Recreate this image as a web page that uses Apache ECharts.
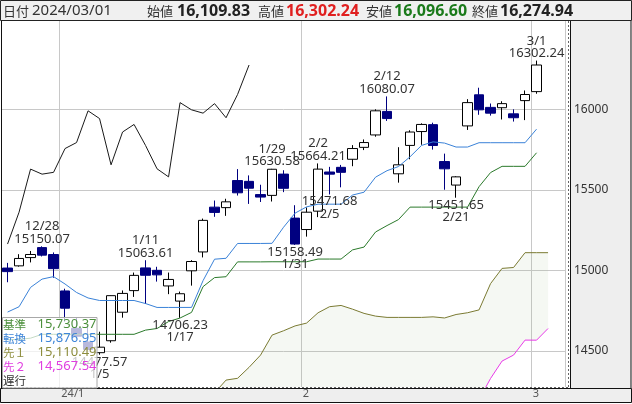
<!DOCTYPE html>
<html>
<head>
<meta charset="utf-8">
<script src="https://cdn.jsdelivr.net/npm/echarts@6/dist/echarts.min.js"></script>
<style>
html, body { margin: 0; padding: 0; background: #fff; }
#main { width: 632px; height: 404px; }
</style>
</head>
<body>
<div id="main"></div>
<script>
// daily candles, 2023/12/22 .. 2024/03/01
var dates = ['12/22', '12/26', '12/27', '12/28', '12/29',
    '1/2', '1/3', '1/4', '1/5', '1/8', '1/9', '1/10', '1/11', '1/12', '1/16', '1/17', '1/18', '1/19',
    '1/22', '1/23', '1/24', '1/25', '1/26', '1/29', '1/30', '1/31',
    '2/1', '2/2', '2/5', '2/6', '2/7', '2/8', '2/9', '2/12', '2/13', '2/14', '2/15', '2/16',
    '2/20', '2/21', '2/22', '2/23', '2/26', '2/27', '2/28', '2/29', '3/1'];
var futureSlots = ['', ''];

var opens = [15015, 15028.69, 15080, 15142, 15099, 14873, 14641, 14556, 14490, 14564, 14741, 14875, 15016, 15001,
    14904, 14810, 14998, 15115, 15393, 15390, 15558, 15553, 15471, 15466, 15598, 15325, 15254, 15368, 15611, 15640,
    15690, 15764, 15841, 15987, 15600, 15776, 15862, 15905, 15676, 15530, 15897, 16090, 16012, 16010, 15972, 16054,
    16109.83];
var closes = [14992.97, 15074.57, 15099.18, 15095.14, 15011.35, 14765.94, 14592.21, 14510.30, 14524.07, 14843.77,
    14857.71, 14969.65, 14970.19, 14972.76, 14944.35, 14855.62, 15055.65, 15310.97, 15360.29, 15425.94, 15481.92,
    15510.50, 15455.36, 15628.04, 15509.90, 15164.01, 15361.64, 15628.95, 15597.68, 15609.00, 15756.64, 15793.72,
    15990.66, 15942.55, 15655.60, 15859.15, 15906.17, 15775.65, 15630.78, 15580.87, 16041.62, 15996.82, 15976.25,
    16035.30, 15947.74, 16091.92, 16274.94];
var lows = [14927, 15024, 15050, 15087, 14955, 14682, 14577, 14504, 14477.57, 14552, 14707, 14836, 14792, 14931,
    14853, 14706.23, 14906, 15081, 15333, 15339, 15465, 15413, 15425, 15428, 15486, 15158.49, 15210, 15331, 15471.68,
    15516, 15647, 15747, 15830, 15928, 15545, 15690, 15780, 15750, 15501, 15451.65, 15872, 15966, 15961, 15937, 15924,
    15933, 16096.60];
var highs = [15047, 15101, 15121, 15150.07, 15112, 14887, 14706, 14655, 14620, 14845, 14876, 14987, 15063.61, 15023,
    14987, 14869, 15064, 15322, 15434, 15445, 15629, 15590, 15532, 15630.58, 15622, 15405, 15391, 15664.21, 15643,
    15655, 15778, 15813, 16000, 16080.07, 15765, 15870, 15913, 15917, 15725, 15585, 16063, 16134, 16036, 16050, 16000,
    16117, 16302.24];

// ichimoku lines
var tenkan = [14742, 14775, 14895, 14946.5, 14962, 14916, 14863.5, 14829.5, 14813.8, 14813.8, 14813.8, 14813.8,
    14794.8, 14770.6, 14770.6, 14770.6, 14770.8, 14937, 15070, 15075.6, 15167.6, 15167.6, 15167.6, 15168.4, 15268.3,
    15355.8, 15394.5, 15411.35, 15411.35, 15411.35, 15468, 15485.7, 15579, 15619.3, 15645, 15705.5, 15775.9, 15798,
    15790.5, 15765.9, 15765.9, 15792.8, 15792.8, 15792.8, 15792.8, 15792.8, 15876.95];
var kijun = [14570, 14572, 14580, 14604, 14604, 14604, 14604, 14604, 14604, 14604, 14604, 14604, 14630, 14640, 14683,
    14705, 14740, 14899.8, 14955.8, 14961.3, 15053.3, 15053.3, 15053.3, 15054.1, 15054.1, 15054.1, 15054.1, 15070.9,
    15070.9, 15070.9, 15127.8, 15145.3, 15238.8, 15278.8, 15316, 15393.2, 15393.2, 15393.2, 15393.2, 15393.2, 15393.2,
    15520, 15607.5, 15646.2, 15646.2, 15646.2, 15730.37];
var senkou1 = [null, null, null, null, null, null, null, null, null, null, null, null, null, null, null, null, null,
    null, 14240, 14320, 14331, 14399, 14475, 14599, 14626, 14656, 14673.5, 14737.5, 14775.3, 14783, 14760, 14733.8,
    14716.8, 14708.9, 14708.9, 14708.9, 14708.9, 14712.4, 14705.3, 14726.8, 14737.8, 14755.4, 14918.4, 15012.9,
    15018.5, 15110.45, 15110.49, 15110.45];
var senkou2 = [null, null, null, null, null, null, null, null, null, null, null, null, null, null, null, null, null,
    null, null, null, null, null, null, null, null, null, null, null, null, null, null, null, null, null, null, null,
    null, null, null, null, null, 14200, 14330, 14438, 14475, 14568, 14567.54, 14640];
var chikou = [15164.01, 15361.64, 15628.95, 15597.68, 15609.00, 15756.64, 15793.72, 15990.66, 15942.55, 15655.60,
    15859.15, 15906.17, 15775.65, 15630.78, 15580.87, 16041.62, 15996.82, 15976.25, 16035.30, 15947.74, 16091.92,
    16274.94];

// swing highs / lows that carry a label
var peakIdx = [3, 12, 23, 27, 33, 46];
var troughIdx = [8, 15, 25, 28, 39];

var yTicks = [14500, 15000, 15500, 16000];
var monthStarts = [5, 26, 46];
var monthLabels = ['24/1', '2', '3'];

var Y_MIN = 14277, Y_MAX = 16548;

function fmt(v) {
    return v.toLocaleString('en-US', { minimumFractionDigits: 2, maximumFractionDigits: 2 });
}

var categories = dates.concat(futureSlots);
var candles = dates.map(function (d, i) {
    return [opens[i], closes[i], lows[i], highs[i]];
});

// cloud: from span 1 down to span 2 (or to the bottom of the chart while span 2 is below it)
var cloudBase = senkou1.map(function (v, i) {
    if (v == null) return null;
    var b = senkou2[i] == null ? Y_MIN : senkou2[i];
    return Math.min(b, v);
});
var cloudBand = senkou1.map(function (v, i) {
    return v == null ? null : v - cloudBase[i];
});

var peakMarks = peakIdx.map(function (i) {
    return { coord: [i, highs[i]], label: { position: 'top', formatter: dates[i] + '\n' + highs[i].toFixed(2) } };
});
var troughMarks = troughIdx.map(function (i) {
    return { coord: [i, lows[i]], label: { position: 'bottom', formatter: lows[i].toFixed(2) + '\n' + dates[i] } };
});

var last = dates.length - 1;
var jp = '"Noto Sans CJK JP", sans-serif';
var lat = '"Noto Sans", sans-serif';

function hText(x, text, font, color) {
    return { type: 'text', z: 51, x: x, y: 11,
        style: { text: text, font: font, fill: color, verticalAlign: 'middle', align: 'left' } };
}

var legendRows = [
    ['基準', kijun[last], '#4b8f3b'],
    ['転換', tenkan[last], '#3f86d8'],
    ['先１', senkou1[last], '#8d8d3d'],
    ['先２', senkou2[last], '#e03ee0'],
    ['遅行', null, '#333']
];
var legendEls = [{ type: 'rect', z: 60, shape: { x: 2.5, y: 317.5, width: 94.5, height: 70.5 },
    style: { fill: 'rgba(255,255,255,0.72)', stroke: '#a8a8a8', lineWidth: 1 } }];
legendRows.forEach(function (r, k) {
    var y = 324.5 + k * 14;
    legendEls.push({ type: 'text', z: 61, x: 3, y: y,
        style: { text: r[0], font: '11.5px ' + jp, fill: r[2], verticalAlign: 'middle' } });
    if (r[1] != null) {
        legendEls.push({ type: 'text', z: 61, x: 96.5, y: y,
            style: { text: fmt(r[1]), font: '13px ' + lat, fill: r[2], align: 'right', verticalAlign: 'middle' } });
    }
});

var myChart = echarts.init(document.getElementById('main'));
var option = {
    animation: false,
    backgroundColor: '#fff',
    grid: { left: 1.8, right: 66.7, top: 21, bottom: 17, outerBoundsMode: 'none' },
    xAxis: [
        {
            type: 'category', data: categories, boundaryGap: true, position: 'bottom',
            axisLine: { show: false }, axisTick: { show: false }, axisLabel: { show: false },
            splitLine: {
                show: true,
                interval: function (idx) { return monthStarts.indexOf(idx) !== -1; },
                lineStyle: { color: '#c8c8c8', width: 1 }
            }
        },
        {
            type: 'value', min: -0.5, max: categories.length - 0.5, position: 'bottom',
            axisLine: { show: false }, axisTick: { show: false }, splitLine: { show: false },
            axisLabel: {
                customValues: monthStarts.map(function (i) { return i - 0.5; }),
                formatter: function (v) {
                    var k = monthStarts.indexOf(Math.round(v + 0.5));
                    return k < 0 ? '' : monthLabels[k];
                },
                align: 'left', padding: [0, 0, 0, 2], margin: 1,
                color: '#555', fontSize: 11, fontFamily: 'Noto Sans'
            }
        }
    ],
    yAxis: {
        type: 'value', position: 'right', min: Y_MIN, max: Y_MAX, scale: true,
        axisLine: { show: false },
        axisTick: { show: false, customValues: yTicks },
        axisLabel: {
            customValues: yTicks, margin: 8.7, color: '#333', fontSize: 12, fontFamily: 'Noto Sans',
            formatter: function (v) { return String(v); }
        },
        splitLine: { show: true, lineStyle: { color: '#c8c8c8', width: 1 } }
    },
    series: [
        { name: 'cloudBase', type: 'line', stack: 'cloud', data: cloudBase, symbol: 'none', silent: true,
            lineStyle: { opacity: 0 } },
        { name: 'cloud', type: 'line', stack: 'cloud', data: cloudBand, symbol: 'none', silent: true,
            lineStyle: { opacity: 0 }, areaStyle: { color: 'rgba(150,180,130,0.14)' } },
        { name: '先１', type: 'line', data: senkou1, symbol: 'none', silent: true,
            lineStyle: { color: '#7a7a32', width: 1 } },
        { name: '先２', type: 'line', data: senkou2, symbol: 'none', silent: true,
            lineStyle: { color: '#e83ae8', width: 1 } },
        { name: '基準', type: 'line', data: kijun, symbol: 'none', silent: true,
            lineStyle: { color: '#2b7a2b', width: 1 } },
        { name: '転換', type: 'line', data: tenkan, symbol: 'none', silent: true,
            lineStyle: { color: '#3a82d8', width: 1 } },
        { name: '遅行', type: 'line', data: chikou, symbol: 'none', silent: true,
            lineStyle: { color: '#1a1a1a', width: 1 } },
        {
            name: 'price', type: 'candlestick', data: candles, barWidth: 10, silent: true,
            itemStyle: { color: '#ffffff', color0: '#000080', borderColor: '#000000', borderColor0: '#000080', borderWidth: 1 },
            markPoint: {
                symbol: 'circle', symbolSize: 0, silent: true,
                itemStyle: { color: 'transparent' },
                label: { show: true, distance: 1, color: '#333', fontSize: 13, fontFamily: 'Noto Sans', lineHeight: 12.5, align: 'center' },
                data: peakMarks.concat(troughMarks)
            }
        }
    ],
    graphic: [
        // chart frame
        { type: 'rect', z: -10, shape: { x: 570.5, y: 20.5, width: 60.5, height: 368 },
            style: { fill: '#eeeeee', stroke: '#111', lineWidth: 1 } },
        { type: 'rect', z: -10, shape: { x: 0.5, y: 388.5, width: 631, height: 14 },
            style: { fill: '#eeeeee', stroke: '#111', lineWidth: 1 } },
        { type: 'line', z: 5, shape: { x1: 568.5, y1: 21, x2: 568.5, y2: 387.5 },
            style: { stroke: '#666', lineWidth: 1, lineDash: [2, 2] } },
        { type: 'line', z: 5, shape: { x1: 2, y1: 387.5, x2: 569, y2: 387.5 },
            style: { stroke: '#666', lineWidth: 1, lineDash: [2, 2] } },
        { type: 'line', z: 50, shape: { x1: 1.5, y1: 20.5, x2: 1.5, y2: 388.5 },
            style: { stroke: '#111', lineWidth: 1 } },
        // header
        { type: 'rect', z: 50, shape: { x: 0.5, y: 0.5, width: 631, height: 20 },
            style: { fill: '#f0f0f0', stroke: '#222', lineWidth: 1 } },
        hText(3, '日付', '13px ' + jp, '#333'),
        hText(32, '2024/03/01', '15px ' + lat, '#333'),
        hText(147, '始値', '13px ' + jp, '#333'),
        hText(177, fmt(opens[last]), 'bold 16px ' + lat, '#222'),
        hText(258, '高値', '13px ' + jp, '#333'),
        hText(286, fmt(highs[last]), 'bold 16px ' + lat, '#e02020'),
        hText(366, '安値', '13px ' + jp, '#333'),
        hText(394, fmt(lows[last]), 'bold 16px ' + lat, '#1a7a1a'),
        hText(472, '終値', '13px ' + jp, '#333'),
        hText(500, fmt(closes[last]), 'bold 16px ' + lat, '#222')
    ].concat(legendEls)
};
myChart.setOption(option);
</script>
</body>
</html>
